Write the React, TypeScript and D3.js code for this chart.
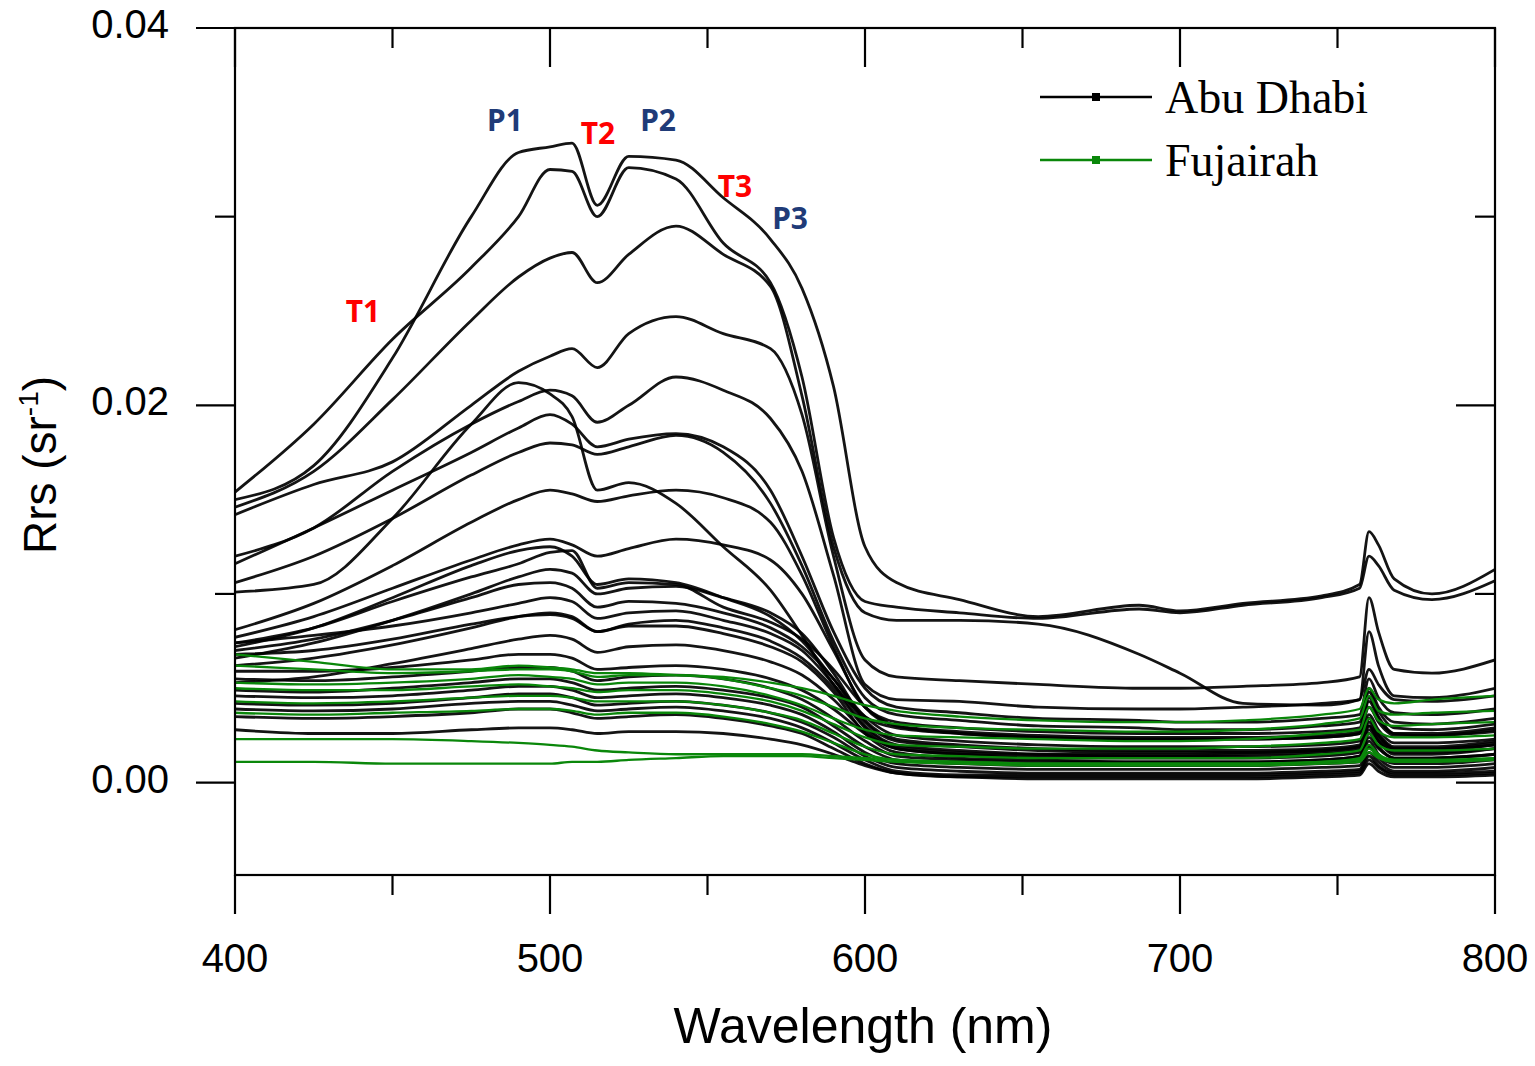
import * as d3 from "d3";

const WAVELENGTHS = [400, 425, 450, 475, 490, 500, 507, 515, 525, 540, 555, 570, 580, 590, 600, 610, 630, 655, 687, 700, 720, 745, 757, 760, 763, 768, 780, 800];

// Rrs values in 10^-3 sr^-1
const RRS_UNIT = 1e-3;

// Abu Dhabi spectra
const AD01 = [15.0, 16.8, 22.5, 30.0, 33.4, 33.7, 33.9, 30.6, 33.2, 33.0, 31.0, 28.8, 26.2, 21.0, 12.5, 10.6, 9.7, 8.8, 9.4, 9.1, 9.5, 9.9, 10.5, 13.3, 12.6, 10.8, 10.0, 11.3];
const AD02 = [15.4, 19.0, 23.5, 27.3, 30.0, 32.5, 32.4, 30.0, 32.6, 32.0, 28.6, 26.5, 21.5, 13.0, 9.6, 9.3, 9.0, 8.7, 9.2, 9.0, 9.4, 9.8, 10.3, 12.0, 11.5, 10.2, 9.7, 10.7];
const AD03 = [14.6, 16.5, 20.3, 24.5, 26.8, 27.8, 28.1, 26.5, 28.0, 29.5, 28.0, 26.3, 20.5, 12.5, 9.0, 8.6, 8.6, 8.4, 6.8, 5.8, 4.2, 4.1, 4.4, 6.0, 5.2, 4.4, 4.3, 4.6];
const AD04 = [14.2, 15.8, 17.0, 20.0, 21.8, 22.6, 23.0, 22.0, 23.8, 24.7, 23.8, 23.0, 19.5, 12.0, 6.5, 5.6, 5.4, 5.2, 5.0, 5.0, 5.1, 5.3, 5.6, 9.8, 8.0, 6.0, 5.8, 6.5];
const AD05 = [12.0, 13.5, 16.5, 19.0, 20.2, 20.8, 20.5, 19.1, 20.0, 21.5, 20.8, 19.3, 16.5, 11.0, 5.2, 4.4, 4.3, 4.0, 3.9, 3.9, 4.0, 4.2, 4.4, 8.0, 6.2, 4.6, 4.5, 5.0];
const AD06 = [10.1, 10.5, 14.0, 19.0, 21.2, 20.6, 19.4, 15.5, 15.9, 14.8, 12.5, 10.2, 7.8, 5.2, 3.5, 2.9, 2.6, 2.4, 2.3, 2.3, 2.3, 2.4, 2.6, 4.5, 3.5, 2.6, 2.5, 2.8];
const AD07 = [11.6, 13.5, 15.5, 17.5, 18.8, 19.5, 19.0, 17.8, 18.2, 18.5, 17.8, 15.5, 12.0, 8.0, 5.0, 4.0, 3.7, 3.4, 3.3, 3.2, 3.2, 3.4, 3.6, 5.5, 4.5, 3.7, 3.6, 3.9];
const AD08 = [10.6, 12.0, 14.0, 16.3, 17.5, 18.0, 17.9, 17.4, 17.8, 18.4, 17.5, 14.8, 11.5, 7.5, 4.5, 3.6, 3.3, 3.0, 2.9, 2.8, 2.8, 3.0, 3.2, 5.0, 4.0, 3.2, 3.1, 3.4];
const AD09 = [8.1, 9.5, 11.5, 13.8, 15.0, 15.5, 15.3, 14.9, 15.2, 15.5, 15.1, 13.8, 11.0, 7.2, 4.0, 3.2, 2.9, 2.7, 2.6, 2.6, 2.6, 2.7, 2.9, 4.8, 3.8, 2.9, 2.8, 3.1];
const AD10 = [7.7, 8.8, 10.3, 11.8, 12.6, 12.9, 12.6, 12.0, 12.4, 12.9, 12.6, 11.8, 10.0, 7.0, 4.0, 3.0, 2.7, 2.5, 2.4, 2.4, 2.4, 2.5, 2.7, 4.3, 3.4, 2.6, 2.6, 2.9];
const AD11 = [7.4, 8.2, 9.6, 10.9, 11.6, 12.2, 12.3, 10.3, 10.6, 10.5, 9.3, 8.5, 7.6, 6.0, 4.0, 3.0, 2.6, 2.4, 2.3, 2.3, 2.3, 2.4, 2.6, 4.0, 3.2, 2.5, 2.5, 2.7];
const AD12 = [7.2, 8.2, 9.8, 11.5, 12.3, 12.5, 12.0, 10.5, 10.8, 10.6, 9.8, 8.8, 7.5, 5.5, 3.5, 2.5, 2.2, 2.0, 1.9, 1.9, 1.9, 2.0, 2.2, 3.6, 2.8, 2.1, 2.1, 2.3];
const AD13 = [7.0, 7.6, 8.6, 9.8, 10.5, 10.6, 10.3, 9.3, 9.6, 9.5, 9.0, 8.2, 7.2, 5.5, 3.2, 2.2, 1.9, 1.7, 1.6, 1.6, 1.6, 1.7, 1.9, 3.2, 2.5, 1.8, 1.8, 2.0];
const AD14 = [7.4, 7.8, 8.3, 9.0, 9.5, 9.8, 9.6, 8.7, 9.0, 9.1, 8.6, 7.9, 7.0, 5.2, 3.0, 2.0, 1.7, 1.5, 1.4, 1.4, 1.4, 1.5, 1.7, 2.8, 2.2, 1.6, 1.6, 1.8];
const AD15 = [6.8, 7.0, 7.6, 8.4, 8.8, 8.9, 8.7, 8.0, 8.3, 8.3, 7.9, 7.2, 6.4, 4.8, 2.6, 1.6, 1.3, 1.2, 1.1, 1.1, 1.1, 1.2, 1.4, 2.4, 1.8, 1.3, 1.3, 1.5];
const AD16 = [6.2, 6.6, 7.3, 8.2, 8.8, 9.0, 8.8, 8.0, 8.4, 8.6, 8.2, 7.5, 6.6, 5.0, 2.9, 1.9, 1.6, 1.5, 1.5, 1.5, 1.6, 1.7, 1.9, 3.4, 2.5, 1.8, 1.8, 2.1];
const AD17 = [5.3, 5.6, 6.3, 7.1, 7.6, 7.8, 7.6, 6.9, 7.2, 7.3, 7.0, 6.4, 5.7, 4.4, 2.7, 1.8, 1.5, 1.3, 1.3, 1.3, 1.3, 1.4, 1.6, 3.0, 2.2, 1.5, 1.5, 1.8];
const AD18 = [6.6, 7.4, 8.6, 10.0, 10.9, 11.3, 11.1, 10.0, 10.3, 10.4, 9.8, 9.0, 7.9, 5.8, 3.3, 2.3, 2.0, 1.8, 1.7, 1.7, 1.7, 1.8, 2.0, 3.4, 2.6, 1.9, 1.9, 2.2];
const AD19 = [5.9, 5.9, 6.1, 6.5, 6.8, 6.8, 6.6, 6.0, 6.1, 6.2, 6.0, 5.5, 4.9, 3.9, 2.6, 1.8, 1.5, 1.4, 1.4, 1.4, 1.5, 1.6, 1.8, 3.0, 2.3, 1.7, 1.7, 2.0];
const AD20 = [5.5, 5.4, 5.6, 5.9, 6.1, 6.1, 5.9, 5.4, 5.6, 5.7, 5.5, 5.0, 4.4, 3.4, 2.2, 1.4, 1.2, 1.1, 1.1, 1.1, 1.1, 1.2, 1.4, 2.6, 1.9, 1.3, 1.3, 1.5];
const AD21 = [4.9, 4.8, 5.0, 5.3, 5.5, 5.5, 5.3, 4.9, 5.0, 5.1, 4.9, 4.5, 4.0, 3.0, 1.9, 1.2, 1.0, 0.9, 0.9, 0.9, 0.9, 1.0, 1.1, 2.2, 1.5, 1.0, 1.0, 1.2];
const AD22 = [4.6, 4.5, 4.6, 4.9, 5.1, 5.1, 4.9, 4.5, 4.6, 4.7, 4.5, 4.1, 3.6, 2.7, 1.6, 1.0, 0.8, 0.7, 0.7, 0.7, 0.7, 0.8, 0.9, 1.9, 1.3, 0.8, 0.8, 1.0];
const AD23 = [4.2, 4.1, 4.2, 4.5, 4.7, 4.7, 4.5, 4.1, 4.2, 4.3, 4.1, 3.7, 3.2, 2.4, 1.4, 0.8, 0.6, 0.5, 0.5, 0.5, 0.5, 0.6, 0.7, 1.6, 1.1, 0.6, 0.6, 0.8];
const AD24 = [3.9, 3.8, 3.9, 4.2, 4.3, 4.3, 4.1, 3.8, 3.9, 4.0, 3.8, 3.4, 2.9, 2.1, 1.2, 0.6, 0.4, 0.4, 0.4, 0.4, 0.4, 0.5, 0.6, 1.4, 0.9, 0.5, 0.5, 0.6];
const AD25 = [3.5, 3.4, 3.5, 3.7, 3.9, 3.9, 3.7, 3.4, 3.5, 3.6, 3.4, 3.0, 2.6, 1.8, 1.0, 0.5, 0.3, 0.3, 0.3, 0.3, 0.3, 0.4, 0.5, 1.2, 0.8, 0.4, 0.4, 0.5];
const AD26 = [2.8, 2.6, 2.6, 2.8, 2.9, 2.9, 2.8, 2.6, 2.7, 2.7, 2.6, 2.3, 2.0, 1.5, 0.9, 0.5, 0.3, 0.2, 0.2, 0.2, 0.2, 0.3, 0.4, 1.0, 0.6, 0.3, 0.3, 0.4];

// Fujairah spectra
const FJ01 = [6.8, 6.4, 6.0, 6.0, 6.2, 6.1, 6.0, 5.8, 5.8, 5.7, 5.6, 5.3, 5.0, 4.6, 4.1, 3.8, 3.5, 3.3, 3.2, 3.2, 3.3, 3.6, 3.9, 5.0, 4.4, 4.2, 4.4, 4.6];
const FJ02 = [6.2, 6.0, 5.8, 5.9, 6.0, 6.0, 5.9, 5.6, 5.7, 5.7, 5.5, 5.0, 4.6, 4.0, 3.4, 3.1, 2.9, 2.8, 2.7, 2.7, 2.8, 3.1, 3.4, 4.6, 3.8, 3.6, 3.7, 3.8];
const FJ03 = [5.3, 5.2, 5.3, 5.5, 5.7, 5.6, 5.5, 5.2, 5.3, 5.3, 5.1, 4.6, 4.1, 3.4, 2.8, 2.5, 2.4, 2.3, 2.2, 2.2, 2.3, 2.6, 2.8, 4.0, 3.3, 3.0, 3.1, 3.2];
const FJ04 = [5.0, 4.9, 4.9, 5.1, 5.2, 5.1, 5.0, 4.8, 4.9, 4.9, 4.7, 4.3, 3.8, 3.1, 2.4, 2.0, 1.9, 1.8, 1.8, 1.8, 1.9, 2.1, 2.3, 3.4, 2.7, 2.4, 2.4, 2.5];
const FJ05 = [4.3, 4.2, 4.3, 4.5, 4.6, 4.6, 4.5, 4.3, 4.3, 4.3, 4.1, 3.7, 3.3, 2.6, 1.9, 1.5, 1.4, 1.3, 1.3, 1.3, 1.3, 1.5, 1.7, 2.6, 2.0, 1.7, 1.7, 1.8];
const FJ06 = [3.7, 3.6, 3.7, 3.8, 3.9, 3.9, 3.8, 3.6, 3.7, 3.7, 3.5, 3.1, 2.7, 2.1, 1.5, 1.2, 1.1, 1.0, 1.0, 1.0, 1.0, 1.1, 1.3, 2.0, 1.5, 1.2, 1.2, 1.3];
const FJ07 = [2.3, 2.3, 2.3, 2.2, 2.1, 2.0, 1.9, 1.7, 1.6, 1.5, 1.5, 1.5, 1.5, 1.4, 1.3, 1.2, 1.1, 1.0, 1.0, 1.0, 1.0, 1.1, 1.2, 1.8, 1.4, 1.2, 1.2, 1.3];
const FJ08 = [1.1, 1.1, 1.0, 1.0, 1.0, 1.0, 1.1, 1.1, 1.2, 1.3, 1.4, 1.4, 1.4, 1.3, 1.2, 1.1, 1.0, 0.9, 0.9, 0.9, 0.9, 1.0, 1.1, 1.6, 1.3, 1.1, 1.1, 1.2];

const abuDhabiSpectra = [AD01, AD02, AD03, AD04, AD05, AD06, AD07, AD08, AD09, AD10, AD11, AD12, AD13, AD14, AD15, AD16, AD17, AD18, AD19, AD20, AD21, AD22, AD23, AD24, AD25, AD26];
const fujairahSpectra = [FJ01, FJ02, FJ03, FJ04, FJ05, FJ06, FJ07, FJ08];

// axis ticks
const X_MAJOR = [400, 500, 600, 700, 800];
const X_MINOR = [450, 550, 650, 750];
const Y_MAJOR = [0, 0.02, 0.04];
const Y_MINOR = [0.01, 0.03];

// peak / trough labels placed in data space (nm, sr^-1)
const MARK_LABELS = ["T1", "P1", "T2", "P2", "T3", "P3"];
const MARK_WL = [440.6, 485.7, 515.2, 534.3, 558.7, 576.2];
const MARK_RRS = [0.0250, 0.0351, 0.0344, 0.0351, 0.0316, 0.0299];

const SERIES_NAMES = ["Abu Dhabi", "Fujairah"];
const SERIES_COLORS = ["#000000", "#0a870a"];

export default function App() {
  const width = 1535;
  const height = 1066;
  const left = 235, right = 1495, top = 28, bottom = 875;

  const x = d3.scaleLinear().domain([400, 800]).range([left, right]);
  const y = d3.scaleLinear().domain([-0.0049, 0.04]).range([bottom, top]);

  const line = d3
    .line<number>()
    .x((_, i) => x(WAVELENGTHS[i]))
    .y((d) => y(d * RRS_UNIT))
    .curve(d3.curveMonotoneX);

  const majorLen = 39;
  const minorLen = 20;
  const sans = "'Liberation Sans', Arial, sans-serif";

  return (
    <svg
      width={width}
      height={height}
      viewBox={`0 0 ${width} ${height}`}
      style={{ position: "absolute", left: 0, top: 0, background: "#fff" }}
    >
      <defs>
        <clipPath id="plot-clip">
          <rect x={left} y={top} width={right - left} height={bottom - top} />
        </clipPath>
      </defs>

      {/* spectra */}
      <g clipPath="url(#plot-clip)" fill="none" strokeLinejoin="round">
        {abuDhabiSpectra.map((s, i) => (
          <path key={`ad${i}`} d={line(s) || ""} stroke={SERIES_COLORS[0]} strokeWidth={2.8} strokeOpacity={0.92} />
        ))}
        {fujairahSpectra.map((s, i) => (
          <path key={`fj${i}`} d={line(s) || ""} stroke={SERIES_COLORS[1]} strokeWidth={2.3} />
        ))}
      </g>

      {/* frame */}
      <g stroke="#000" strokeWidth={2.2} fill="none">
        <rect x={left} y={top} width={right - left} height={bottom - top} />
        {/* bottom axis, outward ticks */}
        {X_MAJOR.map((t) => (
          <line key={`bx${t}`} x1={x(t)} x2={x(t)} y1={bottom} y2={bottom + majorLen} />
        ))}
        {X_MINOR.map((t) => (
          <line key={`bxm${t}`} x1={x(t)} x2={x(t)} y1={bottom} y2={bottom + minorLen} />
        ))}
        {/* top axis, inward ticks */}
        {X_MAJOR.map((t) => (
          <line key={`tx${t}`} x1={x(t)} x2={x(t)} y1={top} y2={top + majorLen} />
        ))}
        {X_MINOR.map((t) => (
          <line key={`txm${t}`} x1={x(t)} x2={x(t)} y1={top} y2={top + minorLen} />
        ))}
        {/* left axis, outward ticks */}
        {Y_MAJOR.map((t) => (
          <line key={`ly${t}`} x1={left - majorLen} x2={left} y1={y(t)} y2={y(t)} />
        ))}
        {Y_MINOR.map((t) => (
          <line key={`lym${t}`} x1={left - minorLen} x2={left} y1={y(t)} y2={y(t)} />
        ))}
        {/* right axis, inward ticks */}
        {Y_MAJOR.map((t) => (
          <line key={`ry${t}`} x1={right - majorLen} x2={right} y1={y(t)} y2={y(t)} />
        ))}
        {Y_MINOR.map((t) => (
          <line key={`rym${t}`} x1={right - minorLen} x2={right} y1={y(t)} y2={y(t)} />
        ))}
      </g>

      {/* tick labels */}
      <g fontFamily={sans} fontSize={40} fill="#000">
        {Y_MAJOR.map((t) => (
          <text key={`yl${t}`} x={169} y={y(t) - 4} dy="0.35em" textAnchor="end">
            {d3.format(".2f")(t)}
          </text>
        ))}
        {X_MAJOR.map((t) => (
          <text key={`xl${t}`} x={x(t)} y={972} textAnchor="middle">
            {t}
          </text>
        ))}
      </g>

      {/* axis titles */}
      <text x={863} y={1043} textAnchor="middle" fontFamily={sans} fontSize={50}>
        Wavelength (nm)
      </text>
      <text
        transform={`translate(56,465) rotate(-90)`}
        textAnchor="middle"
        fontFamily={sans}
        fontSize={46}
      >
        Rrs (sr
        <tspan fontSize={28} dy={-18}>-1</tspan>
        <tspan dy={18}>)</tspan>
      </text>

      {/* peak / trough annotations */}
      <g fontFamily="'Noto Sans', 'Open Sans', sans-serif" fontWeight={700} fontSize={30} textAnchor="middle">
        {MARK_LABELS.map((lab, i) => (
          <text
            key={lab}
            x={x(MARK_WL[i])}
            y={y(MARK_RRS[i])}
            dy="0.36em"
            fill={lab.startsWith("P") ? "#1f3b78" : "#ff0000"}
          >
            {lab}
          </text>
        ))}
      </g>

      {/* legend */}
      {SERIES_NAMES.map((name, i) => {
        const ly = 97 + i * 63;
        return (
          <g key={name}>
            <line x1={1040} x2={1152} y1={ly} y2={ly} stroke={SERIES_COLORS[i]} strokeWidth={2.6} />
            <rect x={1092} y={ly - 4} width={8} height={8} fill={SERIES_COLORS[i]} />
            <text
              x={1165}
              y={ly + 16}
              fontFamily="'Liberation Serif', 'Times New Roman', serif"
              fontSize={46}
              fill="#000"
            >
              {name}
            </text>
          </g>
        );
      })}
    </svg>
  );
}
